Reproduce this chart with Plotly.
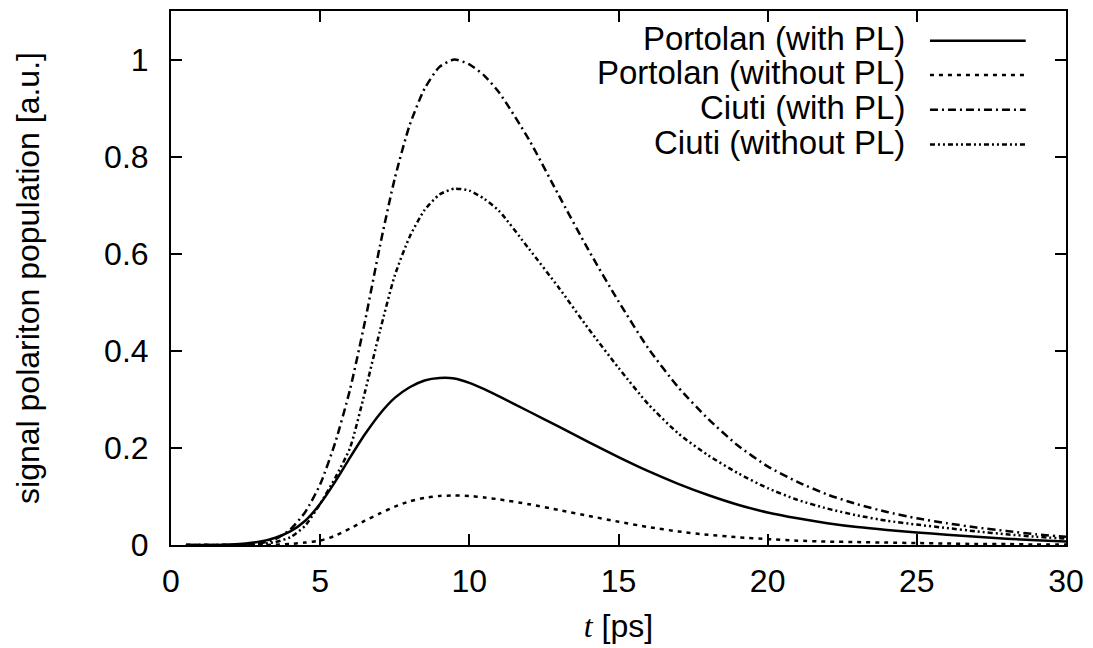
import plotly.graph_objects as go

t = [0.5, 1, 1.5, 2, 2.5, 3, 3.5, 4, 4.5, 5, 5.5, 6, 6.5, 7, 7.5, 8, 8.5, 9, 9.5, 10,
     10.5, 11, 12, 13, 14, 15, 16, 17, 18, 19, 20, 21, 22, 23, 24, 25, 26, 27, 28, 29, 30]

portolan_with_pl = [0, 0, 0.0002, 0.001, 0.003, 0.007, 0.015, 0.028, 0.05, 0.085, 0.13, 0.18,
                    0.228, 0.27, 0.303, 0.325, 0.339, 0.344, 0.343, 0.334, 0.321, 0.306, 0.275,
                    0.244, 0.212, 0.181, 0.152, 0.126, 0.103, 0.083, 0.067, 0.055, 0.045, 0.037,
                    0.031, 0.026, 0.021, 0.017, 0.013, 0.010, 0.007]

portolan_without_pl = [0, 0, 0, 0, 0, 0, 0.0005, 0.002, 0.005, 0.009, 0.019, 0.034, 0.05, 0.065,
                       0.079, 0.09, 0.097, 0.101, 0.102, 0.101, 0.098, 0.094, 0.084, 0.072, 0.06,
                       0.048, 0.037, 0.028, 0.021, 0.016, 0.012, 0.009, 0.007, 0.006, 0.005,
                       0.004, 0.003, 0.002, 0.002, 0.001, 0.001]

ciuti_with_pl = [0, 0, 0, 0, 0.001, 0.004, 0.012, 0.032, 0.068, 0.125, 0.21, 0.32, 0.46, 0.615,
                 0.755, 0.865, 0.94, 0.985, 1.0, 0.99, 0.967, 0.932, 0.835, 0.72, 0.607, 0.502,
                 0.405, 0.325, 0.26, 0.205, 0.162, 0.13, 0.104, 0.084, 0.068, 0.055, 0.045, 0.036,
                 0.029, 0.022, 0.017]

ciuti_without_pl = [0, 0, 0, 0, 0.0005, 0.002, 0.006, 0.016, 0.04, 0.085, 0.138, 0.2, 0.315,
                    0.44, 0.555, 0.635, 0.69, 0.722, 0.734, 0.73, 0.713, 0.688, 0.61, 0.53,
                    0.445, 0.365, 0.29, 0.23, 0.185, 0.148, 0.117, 0.093, 0.075, 0.061, 0.05,
                    0.042, 0.035, 0.028, 0.022, 0.017, 0.013]

series_names = ["Portolan (with PL)", "Portolan (without PL)", "Ciuti (with PL)", "Ciuti (without PL)"]
series_values = [portolan_with_pl, portolan_without_pl, ciuti_with_pl, ciuti_without_pl]
dashes = ["solid", "4px,5px", "8px,4px,2px,4px", "5px,3px,2px,3px,2px,3px"]

x_ticks = [0, 5, 10, 15, 20, 25, 30]
y_ticks = [0, 0.2, 0.4, 0.6, 0.8, 1.0]
y_tick_labels = ["0", "0.2", "0.4", "0.6", "0.8", "1"]

FONT = "Liberation Sans, Arial, Helvetica, sans-serif"
FS = 32

fig = go.Figure()
for name, vals, dash in zip(series_names, series_values, dashes):
    fig.add_trace(go.Scatter(x=t, y=vals, mode="lines", name=name,
                             line=dict(color="black", width=2.5, dash=dash, shape="spline", smoothing=0.6),
                             showlegend=False))

# legend drawn manually (text right-aligned, sample line on the right, gnuplot style)
legend_y = [0.9485, 0.884, 0.819, 0.754]
for name, dash, ly in zip(series_names, dashes, legend_y):
    fig.add_annotation(xref="paper", yref="paper", x=0.822, y=ly, text=name, showarrow=False,
                       xanchor="right", yanchor="middle", font=dict(size=33, color="black", family=FONT))
    fig.add_shape(type="line", xref="paper", yref="paper", x0=0.848, x1=0.955, y0=ly - 0.004, y1=ly - 0.004,
                  line=dict(color="black", width=2.5, dash=dash))

axis_common = dict(showgrid=False, zeroline=False, showline=True, linecolor="black", linewidth=2,
                   mirror="allticks", ticks="inside", ticklen=11, tickwidth=1.5, tickcolor="black",
                   tickfont=dict(size=FS, color="black", family=FONT))

fig.update_xaxes(range=[0, 30], tickvals=x_ticks, ticklabelstandoff=7,
                 title=dict(text="<span style=\"font-family:'Liberation Serif'\"><i>t</i></span> [ps]",
                            font=dict(size=FS, color="black", family=FONT), standoff=16),
                 **axis_common)
fig.update_yaxes(range=[0, 1.1], tickvals=y_ticks, ticktext=y_tick_labels, ticklabelstandoff=14,
                 title=dict(text="signal polariton population [a.u.]",
                            font=dict(size=FS, color="black", family=FONT), standoff=55),
                 **axis_common)

fig.update_layout(width=1093, height=648, paper_bgcolor="white", plot_bgcolor="white",
                  margin=dict(l=171, r=27, t=9, b=103), font=dict(family=FONT, color="black"))

fig.write_html("out.html", config={"displayModeBar": False},
               post_script="document.body.style.margin='0';")
